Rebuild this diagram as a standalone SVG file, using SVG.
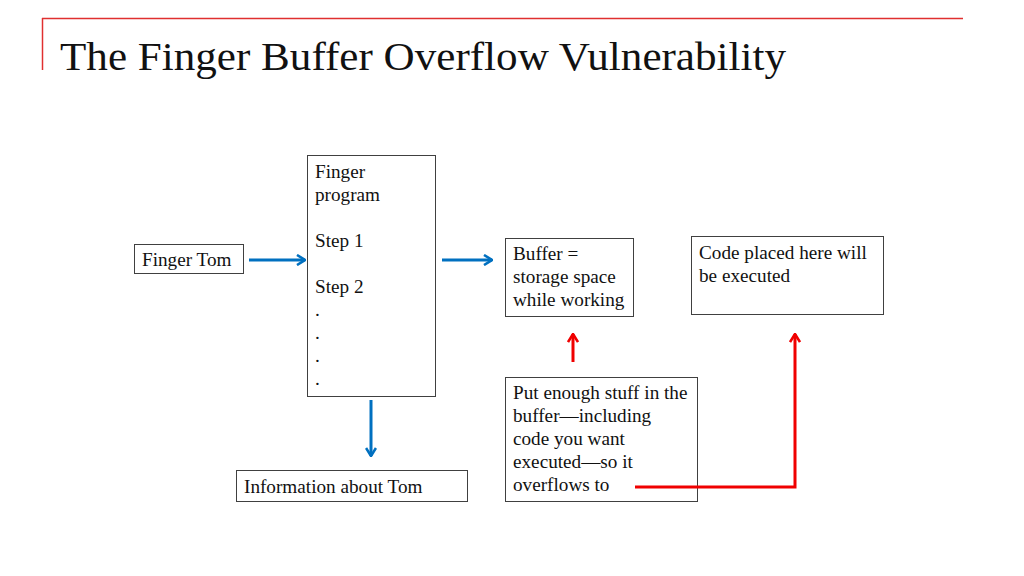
<svg xmlns="http://www.w3.org/2000/svg" width="1024" height="576" viewBox="0 0 1024 576">
<style>
.box{fill:#fff;stroke:#404040;stroke-width:1}
.t{font-family:"Liberation Serif","Times New Roman",serif;font-size:19.2px;fill:#111}
.title{font-family:"Liberation Serif","Times New Roman",serif;font-size:40px;fill:#111}
.blue{fill:none;stroke:#0070C0;stroke-width:3}
.red{fill:none;stroke:#F00000;stroke-width:3}
</style>
<defs>
<marker id="ab" viewBox="0 0 12 12" refX="11" refY="6" markerWidth="12" markerHeight="12" markerUnits="userSpaceOnUse" orient="auto">
<polyline points="3,1 11,6 3,11" fill="none" stroke="#0070C0" stroke-width="2.6"/>
</marker>
<marker id="ar" viewBox="0 0 12 12" refX="11" refY="6" markerWidth="12" markerHeight="12" markerUnits="userSpaceOnUse" orient="auto">
<polyline points="3,1 11,6 3,11" fill="none" stroke="#F00000" stroke-width="2.6"/>
</marker>
</defs>
<rect width="1024" height="576" fill="#fff"/>
<g id="header">
<line x1="42" y1="18.5" x2="963" y2="18.5" stroke="#E03030" stroke-width="1.5"/>
<line x1="42.5" y1="18" x2="42.5" y2="70" stroke="#E03030" stroke-width="1.5"/>
<text class="title" x="60" y="70" textLength="726" lengthAdjust="spacingAndGlyphs">The Finger Buffer Overflow Vulnerability</text>
</g>
<g id="finger-tom">
<rect class="box" x="134.5" y="244.5" width="109" height="29"/>
<text class="t" x="142" y="266">Finger Tom</text>
</g>
<g id="finger-program">
<rect class="box" x="307.5" y="155.5" width="128" height="241"/>
<text class="t" x="315" y="178">Finger</text>
<text class="t" x="315" y="201">program</text>
<text class="t" x="315" y="247">Step 1</text>
<text class="t" x="315" y="293">Step 2</text>
<text class="t" x="315" y="316">.</text>
<text class="t" x="315" y="339">.</text>
<text class="t" x="315" y="362">.</text>
<text class="t" x="315" y="385">.</text>
</g>
<g id="buffer">
<rect class="box" x="505.5" y="238.5" width="128" height="78"/>
<text class="t" x="513" y="260">Buffer =</text>
<text class="t" x="513" y="283">storage space</text>
<text class="t" x="513" y="306">while working</text>
</g>
<g id="code-placed">
<rect class="box" x="691.5" y="236.5" width="192" height="78"/>
<text class="t" x="699" y="259">Code placed here will</text>
<text class="t" x="699" y="282">be executed</text>
</g>
<g id="put-enough">
<rect class="box" x="505.5" y="377.5" width="192" height="124"/>
<text class="t" x="513" y="399">Put enough stuff in the</text>
<text class="t" x="513" y="422">buffer—including</text>
<text class="t" x="513" y="445">code you want</text>
<text class="t" x="513" y="468">executed—so it</text>
<text class="t" x="513" y="491">overflows to</text>
</g>
<g id="information">
<rect class="box" x="236.5" y="470.5" width="231" height="31"/>
<text class="t" x="244" y="493">Information about Tom</text>
</g>
<g id="connectors">
<line class="blue" x1="249" y1="260" x2="305" y2="260" marker-end="url(#ab)"/>
<line class="blue" x1="442" y1="260" x2="492" y2="260" marker-end="url(#ab)"/>
<line class="blue" x1="371" y1="400" x2="371" y2="456" marker-end="url(#ab)"/>
<line class="red" x1="573" y1="362" x2="573" y2="334" marker-end="url(#ar)"/>
<polyline class="red" points="635,487 795,487 795,334" marker-end="url(#ar)"/>
</g>
</svg>
